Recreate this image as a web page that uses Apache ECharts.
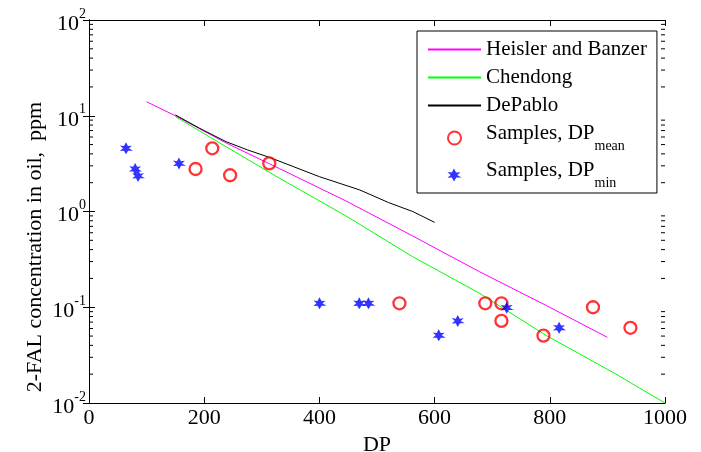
<!DOCTYPE html>
<html>
<head>
<meta charset="utf-8">
<script src="https://cdn.jsdelivr.net/npm/echarts@6/dist/echarts.min.js"></script>
<style>html,body{margin:0;padding:0;background:#fff}#c{width:701px;height:452px}</style>
</head>
<body>
<div id="c"></div>
<script>
// ---- data ----
const heislerDP  = [100, 150, 238, 331, 446, 562, 678, 793, 900];
const heislerFAL = [14.0, 10.0, 5.2, 2.8, 1.29, 0.555, 0.235, 0.105, 0.0485];
const chendongDP  = [150, 238, 331, 446, 562, 678, 793, 909, 1000];
const chendongFAL = [9.8, 4.75, 2.22, 0.90, 0.337, 0.14, 0.051, 0.021, 0.01];
const depabloDP  = [150, 192, 238, 275, 313, 400, 470, 520, 562, 600];
const depabloFAL = [10.2, 7.4, 5.36, 4.4, 3.68, 2.31, 1.68, 1.24, 1.0, 0.77];
const meanDP  = [185, 214, 245, 313, 539, 688, 716, 716, 789, 875, 940];
const meanFAL = [2.78, 4.57, 2.39, 3.18, 0.11, 0.11, 0.11, 0.072, 0.0505, 0.1, 0.061];
const minDP  = [65, 81, 86, 157, 401, 470, 486, 608, 641, 726, 817];
const minFAL = [4.57, 2.78, 2.35, 3.18, 0.11, 0.11, 0.11, 0.051, 0.072, 0.099, 0.061];
const xTicks = [0, 200, 400, 600, 800, 1000];
const yDecades = [0.01, 0.1, 1, 10, 100];
const minorMult = [2, 3, 4, 5, 6, 7, 8, 9];
const yTitle = '2-FAL concentration in oil,  ppm';
const xTitle = 'DP';
const COLORS = {heisler: '#ff00ff', chendong: '#00ff00', depablo: '#000000', mean: '#ff0000', min: '#0000ff'};

const FONT = 'Liberation Serif';
const zip = (a, b) => a.map((v, i) => [v, b[i]]);
const minorVals = [];
yDecades.slice(0, -1).forEach(d => minorMult.forEach(m => minorVals.push(+(d * m).toPrecision(3))));
const X0 = xTicks[0], X1 = xTicks[xTicks.length - 1];

const starPath = 'path://M0,-6 L2,-2.2 L6,-2.6 L3,0 L7,2.4 L2.2,2.4 L0,6 L-2,2.4 L-6,2.6 L-3,0 L-6,-2.8 L-2,-2.2 Z';

function minorTickSeries(side, dir) {
  return {
    type: 'custom', silent: true, clip: false, z: 10,
    data: minorVals.map(v => [side, v]),
    renderItem: function (params, api) {
      const p = api.coord([api.value(0), api.value(1)]);
      return {type: 'line', shape: {x1: p[0], y1: p[1], x2: p[0] + dir * 4, y2: p[1]},
              style: {stroke: '#000', lineWidth: 1}};
    }
  };
}
function lineLegend(name, color) {
  return {name: name, itemStyle: {opacity: 0}, lineStyle: {color: color, width: 2, opacity: 1}};
}

const chart = echarts.init(document.getElementById('c'), null, {renderer: 'canvas'});
chart.setOption({
  animation: false,
  backgroundColor: '#fff',
  grid: {left: 89, right: 36, top: 20, bottom: 49, containLabel: false, outerBoundsMode: 'none'},
  graphic: [{
    type: 'text', x: 35, y: 247, rotation: Math.PI / 2,
    style: {text: yTitle, fill: '#000', font: '22px "Liberation Serif"', align: 'center', verticalAlign: 'middle'}
  }],
  legend: {
    data: [
      lineLegend('Heisler and Banzer', COLORS.heisler),
      lineLegend('Chendong', COLORS.chendong),
      lineLegend('DePablo', COLORS.depablo),
      {name: 'Samples, DP_mean'},
      {name: 'Samples, DP_min'}
    ],
    orient: 'vertical',
    left: 417, top: 31,
    padding: [8, 10, 3, 10],
    itemGap: 7,
    itemWidth: 53, itemHeight: 13,
    itemTextGap: 1,
    backgroundColor: '#fff',
    borderColor: '#000', borderWidth: 1,
    formatter: function (name) {
      const m = name.match(/^(.*)_(.*)$/);
      if (m) return '{a|' + m[1] + '}{s|' + m[2] + '}';
      return '{p|' + name + '}';
    },
    textStyle: {
      color: '#000', fontFamily: FONT, fontSize: 21,
      rich: {
        p: {fontFamily: FONT, fontSize: 21, color: '#000'},
        a: {fontFamily: FONT, fontSize: 21, color: '#000', verticalAlign: 'top'},
        s: {fontFamily: FONT, fontSize: 14, color: '#000', verticalAlign: 'top', padding: [16, 0, 0, 0]}
      }
    }
  },
  xAxis: [{
    type: 'value', min: X0, max: X1, interval: 200, position: 'bottom',
    name: xTitle, nameLocation: 'middle', nameGap: 18,
    nameTextStyle: {color: '#000', fontFamily: FONT, fontSize: 22},
    axisLine: {lineStyle: {color: '#000', width: 1}},
    axisTick: {inside: true, length: 6, lineStyle: {color: '#000'}},
    axisLabel: {margin: 4, color: '#000', fontFamily: FONT, fontSize: 22, formatter: v => String(v)},
    splitLine: {show: false}
  }, {
    type: 'value', min: X0, max: X1, interval: 200, position: 'top',
    axisLine: {lineStyle: {color: '#000', width: 1}},
    axisTick: {inside: true, length: 6, lineStyle: {color: '#000'}},
    axisLabel: {show: false}, splitLine: {show: false}
  }],
  yAxis: [{
    type: 'log', logBase: 10, min: yDecades[0], max: yDecades[yDecades.length - 1], position: 'left',
    axisLine: {show: true, lineStyle: {color: '#000', width: 1}},
    axisTick: {inside: true, length: 6, lineStyle: {color: '#000'}},
    axisLabel: {
      margin: 3, color: '#000',
      formatter: function (v) {
        const e = Math.round(Math.log10(v));
        return '{b|10}{e|' + e + '}';
      },
      rich: {
        b: {fontFamily: FONT, fontSize: 22, color: '#000', padding: [8, 0, 0, 0]},
        e: {fontFamily: FONT, fontSize: 14, color: '#000', padding: [0, 0, 12, 0]}
      }
    },
    splitLine: {show: false}
  }, {
    type: 'log', logBase: 10, min: yDecades[0], max: yDecades[yDecades.length - 1], position: 'right',
    axisLine: {show: true, lineStyle: {color: '#000', width: 1}},
    axisTick: {inside: true, length: 6, lineStyle: {color: '#000'}},
    axisLabel: {show: false}, splitLine: {show: false}
  }],
  series: [
    {
      name: 'Heisler and Banzer', type: 'line', data: zip(heislerDP, heislerFAL),
      symbol: 'none', lineStyle: {color: COLORS.heisler, width: 1}, itemStyle: {color: COLORS.heisler}, z: 3
    },
    {
      name: 'Chendong', type: 'line', data: zip(chendongDP, chendongFAL),
      symbol: 'none', lineStyle: {color: COLORS.chendong, width: 1}, itemStyle: {color: COLORS.chendong}, z: 3
    },
    {
      name: 'DePablo', type: 'line', data: zip(depabloDP, depabloFAL),
      symbol: 'none', lineStyle: {color: COLORS.depablo, width: 1}, itemStyle: {color: COLORS.depablo}, z: 3
    },
    {
      name: 'Samples, DP_mean', type: 'scatter', data: zip(meanDP, meanFAL),
      symbol: 'circle', symbolSize: 12,
      itemStyle: {color: 'rgba(255,255,255,0)', borderColor: COLORS.mean, borderWidth: 2.3}, z: 4
    },
    {
      name: 'Samples, DP_min', type: 'scatter', data: zip(minDP, minFAL),
      symbol: starPath, symbolSize: [13, 12],
      itemStyle: {color: COLORS.min}, z: 4
    },
    minorTickSeries(X0, 1),
    minorTickSeries(X1, -1)
  ]
});
</script>
</body>
</html>
